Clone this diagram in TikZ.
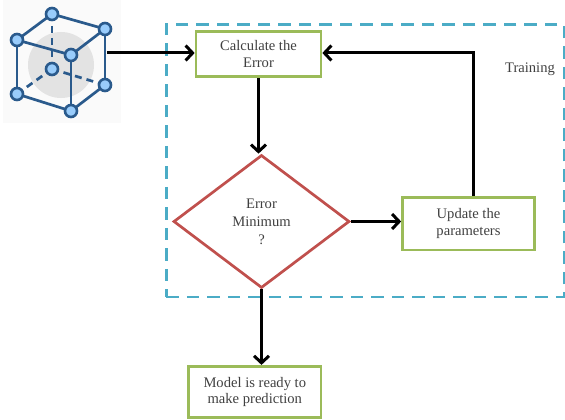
\documentclass[tikz,border=0pt]{standalone}
\usepackage{fontspec}
\setmainfont{Liberation Serif}
\usetikzlibrary{arrows.meta,shapes.geometric}
\definecolor{boxgreen}{HTML}{9BBB59}
\definecolor{diared}{HTML}{C0504D}
\definecolor{dashblue}{HTML}{4BACC6}
\definecolor{cubeblue}{HTML}{2A5A8C}
\definecolor{balllight}{HTML}{99CCFB}
\tikzset{
  stepbox/.style={draw=boxgreen,line width=2.7pt,align=center,font=\fontsize{14.6}{16.8}\selectfont,text=black!75},
  flow/.style={line width=3pt,-{Straight Barb[length=7pt,width=15pt]}},
  edge/.style={draw=cubeblue,line width=2.7pt},
  hidden/.style={edge,dash pattern=on 7pt off 5pt},
  ball/.style={circle,draw=cubeblue,fill=balllight,line width=2.6pt,minimum size=12pt,inner sep=0pt}
}
\begin{document}
\begin{tikzpicture}[x=1pt,y=-1pt]
\useasboundingbox (0,0) rectangle (565,420);
%icon
\fill[black!2] (3,0) rectangle (121,123);
\fill[black!11] (61,65) circle (33);
\coordinate (bt) at (52,14);
\coordinate (rt) at (105,29);
\coordinate (lt) at (17,40);
\coordinate (ft) at (71,55);
\coordinate (bb) at (52,69);
\coordinate (rb) at (105,85);
\coordinate (lb) at (17,94);
\coordinate (fb) at (71,111);
\draw[hidden] (bt) -- (bb);
\draw[hidden] (bb) -- (lb);
\draw[hidden] (bb) -- (rb);
\draw[edge] (bt) -- (rt);
\draw[edge] (bt) -- (lt);
\draw[edge] (lt) -- (ft);
\draw[edge] (rt) -- (ft);
\draw[edge] (lt) -- (lb);
\draw[edge] (rt) -- (rb);
\draw[edge] (ft) -- (fb);
\draw[edge] (lb) -- (fb);
\draw[edge] (rb) -- (fb);
\foreach \c in {bt,rt,lt,ft,bb,rb,lb,fb}
\node[ball] at (\c) {};
%training frame
\node[draw=dashblue,line width=2.5pt,dash pattern=on 12.5pt off 8pt,minimum width=397.5pt,minimum height=272.5pt,inner sep=0pt] (frame) at (365.2,160.7) {};
\node[font=\fontsize{14.6}{17}\selectfont,text=black!75] (training) at (530,69.5) {Training};
%flow
\node[stepbox,minimum width=125pt,minimum height=45.5pt] (calc) at (258.5,54) {Calculate the\\Error};
\node[diamond,draw=diared,line width=2.7pt,minimum width=176pt,minimum height=133pt,inner sep=0pt,aspect=1.32,align=center,font=\fontsize{14.6}{18}\selectfont,text=black!75] (errmin) at (261.5,221.5) {Error\\Minimum\\?};
\node[stepbox,minimum width=132pt,minimum height=52.5pt] (update) at (468.5,223.7) {Update the\\parameters};
\node[stepbox,minimum width=132.5pt,minimum height=51.5pt] (model) at (254.8,392) {Model is ready to\\make prediction};
\coordinate (icon) at (107,53);
\draw[flow] (icon) -- (icon-|calc.west);
\draw[flow] (calc) -- (calc.south|-errmin.north);
\draw[flow] (errmin.east) -- (errmin.east-|update.west);
\draw[flow] (update.north-|473,0) |- (icon-|calc.east);
\draw[flow] (errmin.south) -- (errmin.south|-model.north);
\end{tikzpicture}
\end{document}
